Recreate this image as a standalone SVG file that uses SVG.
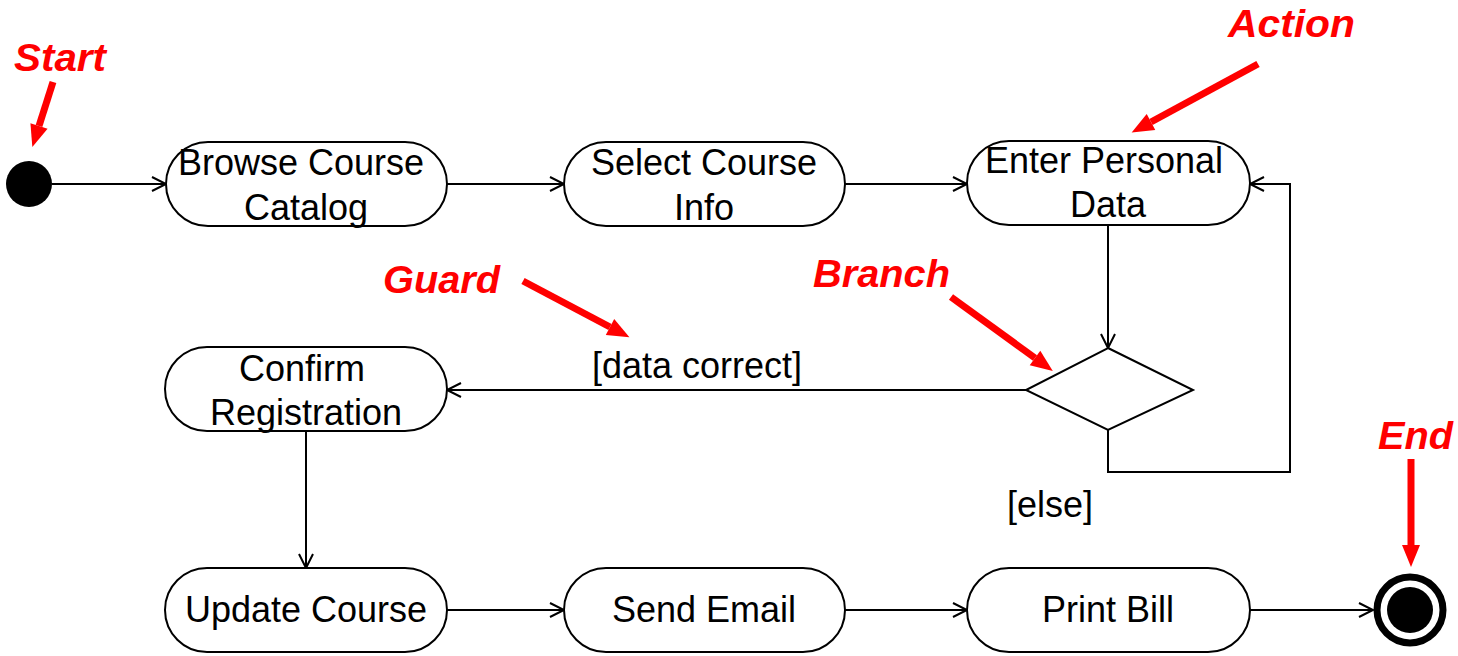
<svg xmlns="http://www.w3.org/2000/svg" width="1458" height="656" viewBox="0 0 1458 656">
<style>
.node{fill:#fff;stroke:#000;stroke-width:2}
.t{font-family:"Liberation Sans",Arial,sans-serif;font-size:36px;fill:#000;text-anchor:middle}
.lbl{font-family:"Liberation Sans",Arial,sans-serif;font-size:36px;fill:#000}
.ann{font-family:"Liberation Sans",Arial,sans-serif;font-size:38px;font-weight:bold;font-style:italic;fill:#ff0000}
.c{fill:none;stroke:#000;stroke-width:2}
.r{fill:none;stroke:#ff0000;stroke-width:7}
</style>
<defs>
<marker id="open" markerUnits="userSpaceOnUse" markerWidth="20" markerHeight="20" viewBox="-16 -10 20 20" refX="0" refY="0" orient="auto" overflow="visible">
<path d="M-14,-7 L0,0 L-14,7" fill="none" stroke="#000" stroke-width="2"/>
</marker>
<marker id="red" markerUnits="userSpaceOnUse" markerWidth="24" markerHeight="20" viewBox="0 -10 24 20" refX="0" refY="0" orient="auto" overflow="visible">
<path d="M0,-9 L22,0 L0,9 z" fill="#ff0000"/>
</marker>
</defs>

<g id="connectors">
<line class="c" x1="52" y1="184" x2="166" y2="184" marker-end="url(#open)"/>
<line class="c" x1="447" y1="184" x2="564" y2="184" marker-end="url(#open)"/>
<line class="c" x1="845" y1="184" x2="967" y2="184" marker-end="url(#open)"/>
<line class="c" x1="1108" y1="225" x2="1108" y2="348" marker-end="url(#open)"/>
<line class="c" x1="1026" y1="390" x2="447" y2="390" marker-end="url(#open)"/>
<polyline class="c" points="1108,430 1108,472 1290,472 1290,184 1250,184" marker-end="url(#open)"/>
<line class="c" x1="306" y1="431" x2="306" y2="568" marker-end="url(#open)"/>
<line class="c" x1="447" y1="610" x2="564" y2="610" marker-end="url(#open)"/>
<line class="c" x1="845" y1="610" x2="967" y2="610" marker-end="url(#open)"/>
<line class="c" x1="1250" y1="610" x2="1373" y2="610" marker-end="url(#open)"/>
<text class="lbl" x="592" y="378">[data correct]</text>
<text class="lbl" x="1007" y="517">[else]</text>
</g>

<g id="start"><circle cx="29" cy="184" r="23" fill="#000"/></g>

<g id="browse">
<rect class="node" x="166" y="142" width="281" height="84" rx="42"/>
<text class="t" x="301" y="175">Browse Course</text>
<text class="t" x="306" y="220">Catalog</text>
</g>
<g id="select">
<rect class="node" x="564" y="142" width="281" height="84" rx="42"/>
<text class="t" x="704" y="175">Select Course</text>
<text class="t" x="704" y="220">Info</text>
</g>
<g id="enter">
<rect class="node" x="967" y="141" width="283" height="84" rx="42"/>
<text class="t" x="1104" y="173">Enter Personal</text>
<text class="t" x="1108" y="217">Data</text>
</g>
<g id="branch">
<polygon class="node" points="1108,348 1193,390 1108,430 1026,390"/>
</g>
<g id="confirm">
<rect class="node" x="165" y="347" width="282" height="84" rx="42"/>
<text class="t" x="302" y="381">Confirm</text>
<text class="t" x="306" y="425">Registration</text>
</g>
<g id="update">
<rect class="node" x="165" y="568" width="282" height="84" rx="42"/>
<text class="t" x="306" y="622">Update Course</text>
</g>
<g id="email">
<rect class="node" x="564" y="568" width="281" height="84" rx="42"/>
<text class="t" x="704" y="622">Send Email</text>
</g>
<g id="print">
<rect class="node" x="967" y="568" width="283" height="84" rx="42"/>
<text class="t" x="1108" y="622">Print Bill</text>
</g>
<g id="end">
<circle cx="1410" cy="610" r="33" fill="#fff" stroke="#000" stroke-width="7"/>
<circle cx="1410" cy="610" r="23" fill="#000"/>
</g>

<g id="annotations">
<text class="ann" x="14" y="71" textLength="92" lengthAdjust="spacingAndGlyphs">Start</text>
<line class="r" x1="53" y1="82" x2="39" y2="126" marker-end="url(#red)"/>
<text class="ann" x="1228" y="37" textLength="127" lengthAdjust="spacingAndGlyphs">Action</text>
<line class="r" x1="1258" y1="64" x2="1151" y2="122" marker-end="url(#red)"/>
<text class="ann" x="383" y="293" textLength="117" lengthAdjust="spacingAndGlyphs">Guard</text>
<line class="r" x1="523" y1="281" x2="610" y2="327" marker-end="url(#red)"/>
<text class="ann" x="813" y="287" textLength="137" lengthAdjust="spacingAndGlyphs">Branch</text>
<line class="r" x1="951" y1="297" x2="1035" y2="358" marker-end="url(#red)"/>
<text class="ann" x="1378" y="449" textLength="75" lengthAdjust="spacingAndGlyphs">End</text>
<line class="r" x1="1411" y1="459" x2="1411" y2="545" marker-end="url(#red)"/>
</g>
</svg>
